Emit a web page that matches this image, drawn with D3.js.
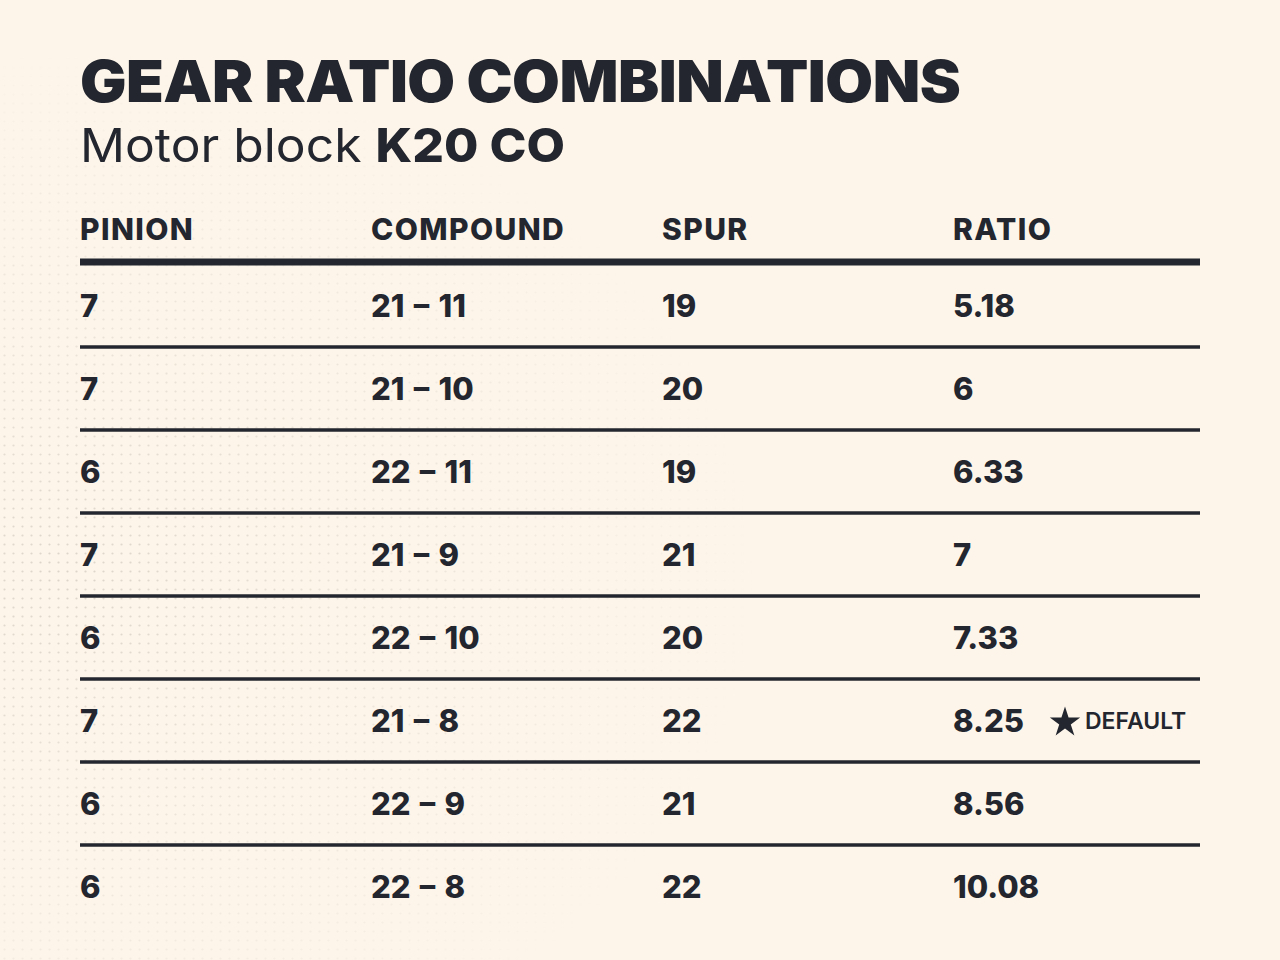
<!DOCTYPE html>
<html>
<head>
<meta charset="utf-8">
<script src="https://cdn.jsdelivr.net/npm/d3@7"></script>
<style>
  html, body { margin: 0; padding: 0; background: #fdf5ea; }
  svg { display: block; }
  text { font-family: "Inter", "Noto Sans", sans-serif; fill: #23262e; }
</style>
</head>
<body>
<svg id="chart"></svg>
<script>
// Table data
const columns = ["PINION", "COMPOUND", "SPUR", "RATIO"];
const pinion = [7, 7, 6, 7, 6, 7, 6, 6];
const compound = ["21 – 11", "21 – 10", "22 – 11", "21 – 9", "22 – 10", "21 – 8", "22 – 9", "22 – 8"];
const spur = [19, 20, 19, 21, 20, 22, 21, 22];
const ratio = ["5.18", "6", "6.33", "7", "7.33", "8.25", "8.56", "10.08"];
const defaultRow = 5;

const width = 1280;
const height = 960;
const ink = "#23262e";

const svg = d3.select("#chart").attr("width", width).attr("height", height);

// faint halftone texture
const defs = svg.append("defs");
const pat = defs.append("pattern")
  .attr("id", "dots")
  .attr("width", 9)
  .attr("height", 9)
  .attr("patternUnits", "userSpaceOnUse");
pat.append("circle").attr("cx", 4.5).attr("cy", 4.5).attr("r", 1.1).attr("fill", "#c9bfb2");

const grad = defs.append("radialGradient").attr("id", "fade").attr("cx", "0.05").attr("cy", "0.6").attr("r", "0.55");
grad.append("stop").attr("offset", "0").attr("stop-color", "#fff").attr("stop-opacity", 0.6);
grad.append("stop").attr("offset", "1").attr("stop-color", "#fff").attr("stop-opacity", 0);
defs.append("mask").attr("id", "fadeMask")
  .append("rect").attr("width", width).attr("height", height).attr("fill", "url(#fade)");

svg.append("rect").attr("width", width).attr("height", height).attr("fill", "#fdf5ea");
svg.append("rect").attr("width", width).attr("height", height)
  .attr("fill", "url(#dots)").attr("mask", "url(#fadeMask)");

// Title (stretched a little to match the wide display face)
svg.append("text")
  .attr("transform", "translate(80,102) scale(1.065,1)")
  .attr("font-size", 58)
  .attr("font-weight", 900)
  .attr("letter-spacing", -0.5)
  .text("GEAR RATIO COMBINATIONS");

const sub = svg.append("text")
  .attr("transform", "translate(80,162) scale(1.06,1)")
  .attr("font-size", 47);
sub.append("tspan").attr("font-weight", 400).text("Motor block ");
sub.append("tspan").attr("font-weight", 800).text("K20 CO");

// Scales
const x = d3.scaleBand().domain(columns).range([80, 1244]);
const rows = d3.range(pinion.length);
const y = d3.scaleBand().domain(rows).range([264, 928]);

// Header
svg.append("g")
  .selectAll("text")
  .data(columns)
  .join("text")
  .attr("x", (d) => x(d))
  .attr("y", 240)
  .attr("font-size", 30)
  .attr("font-weight", 800)
  .attr("letter-spacing", 1.4)
  .text((d) => d);

svg.append("line")
  .attr("x1", 80).attr("x2", 1200)
  .attr("y1", 262).attr("y2", 262)
  .attr("stroke", ink).attr("stroke-width", 7);

// Row separators
svg.append("g")
  .selectAll("line")
  .data(rows.slice(0, -1))
  .join("line")
  .attr("x1", 80).attr("x2", 1200)
  .attr("y1", (d) => y(d) + y.bandwidth())
  .attr("y2", (d) => y(d) + y.bandwidth())
  .attr("stroke", ink)
  .attr("stroke-width", 3.5);

// Cells
const cellValues = [pinion, compound, spur, ratio];
const cells = [];
rows.forEach((r) => {
  columns.forEach((c, ci) => cells.push({ row: r, col: c, value: cellValues[ci][r] }));
});

svg.append("g")
  .selectAll("text")
  .data(cells)
  .join("text")
  .attr("x", (d) => x(d.col))
  .attr("y", (d) => y(d.row) + y.bandwidth() / 2 + 11.5)
  .attr("font-size", 31)
  .attr("font-weight", 800)
  .attr("word-spacing", 2.5)
  .text((d) => d.value);

// Default marker
const badge = svg.append("g")
  .attr("transform", `translate(1065, ${y(defaultRow) + y.bandwidth() / 2})`);
badge.append("path")
  .attr("d", d3.symbol(d3.symbolStar, 285)())
  .attr("transform", "translate(0, 2)")
  .attr("fill", ink);
badge.append("text")
  .attr("x", 20)
  .attr("y", 8.5)
  .attr("font-size", 23)
  .attr("font-weight", 600)
  .text("DEFAULT");
</script>
</body>
</html>
